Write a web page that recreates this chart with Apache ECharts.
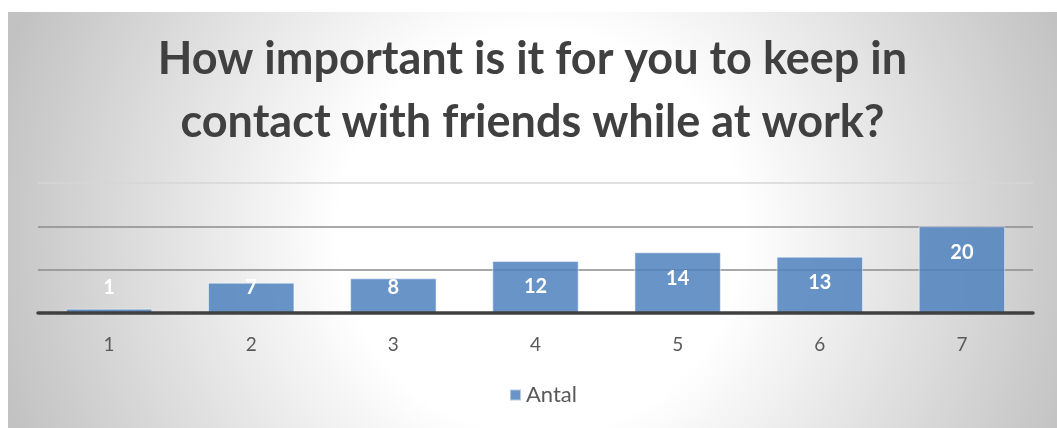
<!DOCTYPE html>
<html>
<head>
<meta charset="utf-8">
<script src="https://cdn.jsdelivr.net/npm/echarts@6/dist/echarts.min.js"></script>
<style>
  html, body { margin: 0; padding: 0; background: #ffffff; }
  #chart { position: absolute; left: 8px; top: 12px; width: 1049px; height: 416px; }
</style>
</head>
<body>
<div id="chart"></div>
<script>
const titleText = 'How important is it for you to keep in\ncontact with friends while at work?';
const categories = ['1', '2', '3', '4', '5', '6', '7'];
const seriesName = 'Antal';
const antalValues = [1, 7, 8, 12, 14, 13, 20];
const yMin = 0, yMax = 30, yInterval = 10;

const gridTop = 171, gridBottom = 115, chartHeight = 416;
const plotHeight = chartHeight - gridTop - gridBottom;

const barData = antalValues.map(function (v) {
  const h = (v - yMin) / (yMax - yMin) * plotHeight;
  const off = Math.min(26, h - 25);
  return { value: v, label: { position: ['50%', off] } };
});

const chart = echarts.init(document.getElementById('chart'));
chart.setOption({
  backgroundColor: {
    type: 'radial', x: 532, y: 220, r: 560, global: true,
    colorStops: [
      { offset: 0, color: '#ffffff' },
      { offset: 0.36, color: '#ffffff' },
      { offset: 1, color: '#c2c2c2' }
    ]
  },
  title: {
    text: titleText,
    left: 'center',
    top: 11,
    padding: [5, 5, 5, 17],
    textStyle: {
      fontFamily: 'Lato',
      fontWeight: 'bold',
      fontSize: 45,
      lineHeight: 63,
      color: '#404040'
    }
  },
  legend: {
    bottom: 17,
    left: 496,
    icon: 'rect',
    itemWidth: 11,
    itemHeight: 11,
    itemGap: 6,
    textStyle: { fontFamily: 'Lato', fontSize: 22, color: '#595959' },
    data: [seriesName]
  },
  grid: { left: 30, right: 24, top: gridTop, bottom: gridBottom, containLabel: false },
  xAxis: {
    type: 'category',
    data: categories,
    axisLine: { show: true, lineStyle: { color: '#404040', width: 3.5 } },
    axisTick: { show: false },
    axisLabel: { margin: 22, fontFamily: 'Lato', fontSize: 19, color: '#595959' },
    z: 5
  },
  yAxis: {
    type: 'value',
    min: yMin, max: yMax, interval: yInterval,
    axisLine: { show: false },
    axisTick: { show: false },
    axisLabel: { show: false },
    splitLine: {
      show: true,
      lineStyle: { color: ['rgba(0,0,0,0)', '#8c8c8c', '#8c8c8c', '#d6d6d6'], width: 1.5 }
    }
  },
  series: [{
    name: seriesName,
    type: 'bar',
    barWidth: '60.8%',
    data: barData,
    itemStyle: {
      color: 'rgba(79,129,189,0.85)',
      borderColor: 'rgba(255,255,255,0.5)',
      borderWidth: 1
    },
    label: {
      show: true,
      align: 'center',
      verticalAlign: 'middle',
      fontFamily: 'Lato',
      fontWeight: 'bold',
      fontSize: 20,
      color: '#ffffff'
    },
    z: 3
  }],
  animation: false
});
</script>
</body>
</html>
